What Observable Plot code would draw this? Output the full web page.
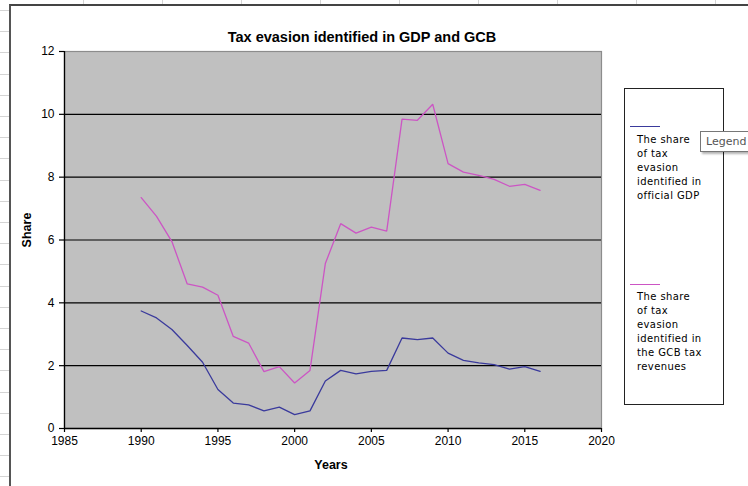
<!DOCTYPE html>
<html><head><meta charset="utf-8">
<script src="https://cdn.jsdelivr.net/npm/d3@7"></script>
<script src="https://cdn.jsdelivr.net/npm/@observablehq/plot@0.6"></script>
<style>
html,body{margin:0;padding:0;background:#fff;}
#wrap{position:relative;width:748px;height:486px;overflow:hidden;font-family:"Liberation Sans",Arial,sans-serif;}
.abs{position:absolute;}
#chartbox{left:9px;top:4px;width:800px;height:600px;border-left:2px solid #555;border-top:2px solid #444;box-sizing:border-box;}
#title{left:0;width:724px;top:29px;text-align:center;font-weight:bold;font-size:14.5px;color:#000;}
#ylab{left:27px;top:230px;transform:translate(-50%,-50%) rotate(-90deg);font-weight:bold;font-size:12.5px;}
#xlab{left:331px;top:465px;transform:translate(-50%,-50%);font-weight:bold;font-size:12.5px;}
#legend{left:624px;top:88px;width:100px;height:317px;border:1px solid #222;box-sizing:border-box;background:#fff;}
.lt{font-family:"DejaVu Sans","Liberation Sans",sans-serif;font-size:10px;letter-spacing:0.4px;line-height:13.9px;color:#000;left:637px;}
.ll{height:0;width:30px;left:630px;}
#tip{left:700px;top:131px;width:60px;height:21px;border:1px solid #777;background:#fff;box-shadow:2px 2px 2px rgba(0,0,0,0.3);font-family:"DejaVu Sans",sans-serif;font-size:11px;color:#555;line-height:20px;padding-left:5px;box-sizing:border-box;}
svg{position:absolute;left:0;top:0;}
</style></head>
<body><div id="wrap"></div>
<script>
const years = [1990,1991,1992,1993,1994,1995,1996,1997,1998,1999,2000,2001,2002,2003,2004,2005,2006,2007,2008,2009,2010,2011,2012,2013,2014,2015,2016];
const shareGDP = [3.74,3.52,3.15,2.64,2.11,1.24,0.81,0.75,0.56,0.68,0.44,0.56,1.51,1.85,1.74,1.82,1.85,2.88,2.83,2.88,2.40,2.17,2.09,2.03,1.89,1.97,1.82];
const shareGCB = [7.35,6.75,5.95,4.6,4.5,4.24,2.93,2.72,1.81,1.97,1.45,1.85,5.25,6.52,6.22,6.41,6.28,9.85,9.81,10.32,8.43,8.16,8.06,7.93,7.71,7.77,7.58];
const xTicks = [1985,1990,1995,2000,2005,2010,2015,2020];
const yTicks = [0,2,4,6,8,10,12];
const gridVals = [2,4,6,8,10];
const seriesNames = ["The share of tax evasion identified in official GDP","The share of tax evasion identified in the GCB tax revenues"];
const seriesColors = ["#3a3a9c","#cc55c4"];

const wrap = document.getElementById("wrap");
function add(html){ wrap.insertAdjacentHTML("beforeend", html); }

// spreadsheet background lines
let bg = "";
for (let x = 83; x < 748; x += 79) bg += `<div class="abs" style="left:${x}px;top:0;width:1px;height:5px;background:#d4d4d4"></div>`;
for (let y = 10; y < 486; y += 21.2) bg += `<div class="abs" style="left:0;top:${Math.round(y)}px;width:9px;height:1px;background:#d4d4d4"></div>`;
add(bg);
add(`<div id="chartbox" class="abs"></div>`);

const data = years.flatMap((y,i)=>[
  {year:y, value:shareGDP[i], s:seriesNames[0]},
  {year:y, value:shareGCB[i], s:seriesNames[1]}
]);

const chart = Plot.plot({
  width:748, height:486,
  marginLeft:64, marginRight:147, marginTop:51, marginBottom:58,
  style:{background:"transparent", fontFamily:"Liberation Sans, Arial, sans-serif", fontSize:"12px", color:"#000"},
  x:{domain:[1985,2020]},
  y:{domain:[0,12]},
  color:{domain:seriesNames, range:seriesColors},
  marks:[
    Plot.frame({fill:"#c0c0c0", stroke:"#8c8c8c", strokeWidth:1.2}),
    Plot.ruleY(gridVals,{stroke:"#000", strokeWidth:1.1}),
    Plot.axisX({ticks:xTicks, tickFormat:d=>String(d), tickSize:4, tickPadding:4, label:null, stroke:"#000", strokeWidth:1.2}),
    Plot.axisY({ticks:yTicks, tickSize:5, tickPadding:5, label:null, stroke:"#000", strokeWidth:1.2}),
    Plot.ruleX([1985],{stroke:"#000", strokeWidth:1.3}),
    Plot.ruleY([0],{stroke:"#000", strokeWidth:1.3}),
    Plot.line(data,{x:"year", y:"value", z:"s", stroke:"s", strokeWidth:1.3, strokeLinejoin:"miter"})
  ]
});
wrap.appendChild(chart);

add(`<div id="title" class="abs">Tax evasion identified in GDP and GCB</div>`);
add(`<div id="ylab" class="abs">Share</div>`);
add(`<div id="xlab" class="abs">Years</div>`);
add(`<div id="legend" class="abs"></div>`);
add(`<div class="abs ll" style="top:126px;border-top:1.3px solid ${seriesColors[0]}"></div>`);
add(`<div class="abs ll" style="top:284px;border-top:1.3px solid ${seriesColors[1]}"></div>`);
add(`<div class="abs lt" style="top:133px">The share<br>of tax<br>evasion<br>identified in<br>official GDP</div>`);
add(`<div class="abs lt" style="top:290px">The share<br>of tax<br>evasion<br>identified in<br>the GCB tax<br>revenues</div>`);
add(`<div id="tip" class="abs">Legend</div>`);
</script>
</body></html>
